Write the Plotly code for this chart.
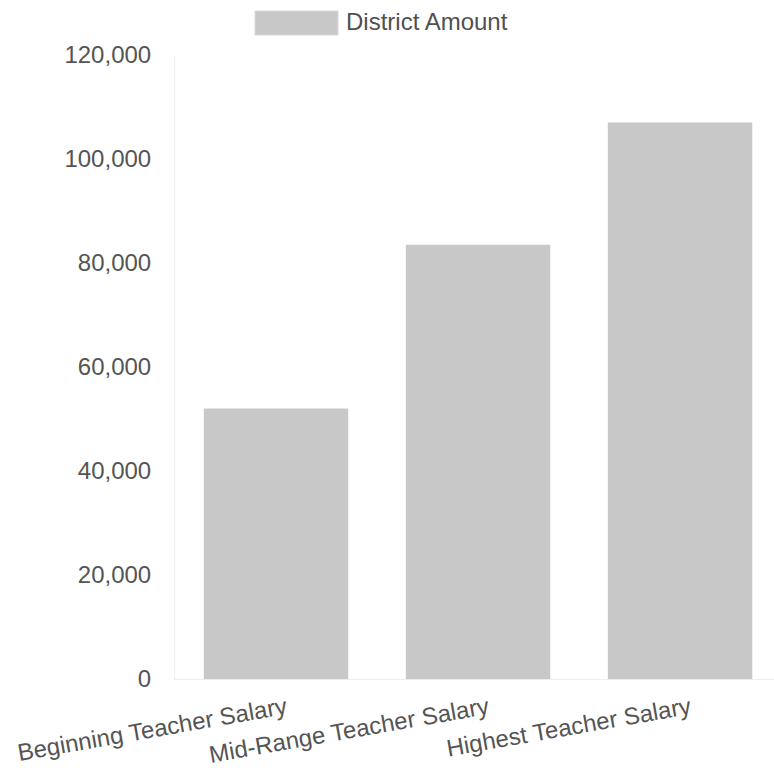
import plotly.graph_objects as go

categories = ["Beginning Teacher Salary", "Mid-Range Teacher Salary", "Highest Teacher Salary"]
district_amount = [52000, 83500, 107000]
series_name = "District Amount"
y_ticks = [0, 20000, 40000, 60000, 80000, 100000, 120000]

FONT = "Liberation Sans, Arial, sans-serif"
TEXT = "#555555"
BAR = "#c8c8c8"
SIZE = 24

fig = go.Figure()
fig.add_trace(go.Bar(
    x=list(range(len(categories))),
    y=district_amount,
    name=series_name,
    marker=dict(color=BAR, line=dict(width=0)),
    width=0.715,
    showlegend=False,
))

# legend drawn as a wide swatch plus label
fig.add_shape(type="rect", xref="paper", yref="paper",
              x0=(255 - 175) / 599, x1=(338 - 175) / 599,
              y0=1 + (55 - 35) / 624, y1=1 + (55 - 11) / 624,
              fillcolor=BAR, line=dict(color="#d8d8d8", width=1))
fig.add_annotation(text=series_name, xref="paper", yref="paper",
                   x=(344 - 175) / 599, y=1 + (55 - 22) / 624,
                   xanchor="left", yanchor="middle", showarrow=False,
                   font=dict(family=FONT, size=SIZE, color="#505050"))

fig.update_layout(
    width=774, height=782,
    margin=dict(l=175, r=0, t=55, b=103),
    paper_bgcolor="white", plot_bgcolor="white",
    font=dict(family=FONT, size=SIZE, color=TEXT),
    bargap=0.29,
    xaxis=dict(
        range=[-0.5, 2.465],
        tickmode="array",
        tickvals=list(range(len(categories))),
        ticktext=categories,
        tickangle=-10,
        showgrid=False, zeroline=False,
        showline=True, linecolor="#ececec", linewidth=1,
        ticks="", ticklabelstandoff=5, ticklabelshift=10,
        tickfont=dict(family=FONT, size=SIZE, color=TEXT),
    ),
    yaxis=dict(
        range=[0, 120000],
        tickvals=y_ticks,
        tickformat=",d",
        showgrid=False, zeroline=False,
        showline=True, linecolor="#efefef", linewidth=1,
        ticks="", ticklabelstandoff=18,
        tickfont=dict(family=FONT, size=SIZE, color=TEXT),
    ),
)

fig.write_html("out.html")
